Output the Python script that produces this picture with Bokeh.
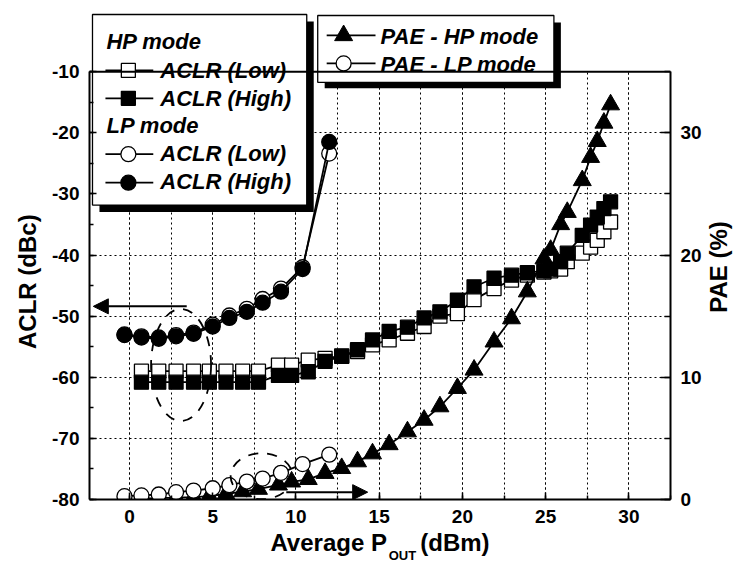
from math import pi
from bokeh.plotting import figure
from bokeh.models import (Range1d, LinearAxis, SingleIntervalTicker, FixedTicker, Span,
                          Arrow, NormalHead, PrintfTickFormatter)
from bokeh.core.properties import value
from bokeh.embed import file_html
from bokeh.resources import INLINE

# ---------------- data ----------------
hp_pout = [0.72, 1.76, 2.8, 3.85, 4.8, 5.8, 6.8, 7.75, 8.95, 9.74, 10.74, 11.75, 12.75,
           13.7, 14.6, 15.6, 16.7, 17.7, 18.65, 19.7, 20.7, 21.9, 22.95, 23.9, 24.9,
           25.3, 25.9, 26.3, 27.2, 27.7, 28.1, 28.5, 28.9]
hp_aclr_low = [-59.0, -59.0, -59.0, -59.0, -59.0, -59.0, -59.0, -59.0, -58.0, -58.0,
               -57.2, -56.9, -56.5, -55.8, -54.7, -53.9, -52.8, -51.7, -50.0, -49.6,
               -47.3, -45.5, -44.1, -43.3, -42.8, -42.6, -42.3, -41.1, -39.7, -38.7,
               -37.6, -36.2, -34.6]
hp_aclr_high = [-60.8, -60.8, -60.8, -60.8, -60.8, -60.8, -60.8, -60.8, -59.7, -59.7,
                -59.1, -57.4, -56.6, -55.5, -53.9, -52.5, -51.8, -50.3, -49.3, -47.4,
                -45.2, -43.8, -43.3, -42.9, -42.6, -42.3, -41.1, -39.7, -36.8, -35.1,
                -33.8, -32.4, -31.3]
hp_pae = [0.1, 0.12, 0.15, 0.2, 0.27, 0.45, 0.65, 0.85, 1.2, 1.45, 1.65, 2.15, 2.55,
          3.1, 3.75, 4.5, 5.55, 6.5, 7.6, 9.1, 10.6, 12.9, 14.8, 17.0, 19.7, 20.4,
          22.5, 23.5, 26.1, 28.0, 29.3, 30.8, 32.3]

lp_pout = [-0.3, 0.72, 1.76, 2.8, 3.85, 5.0, 6.0, 7.05, 8.0, 9.1, 10.4, 12.0]
lp_aclr_low = [-53.0, -53.3, -53.5, -53.1, -52.7, -51.4, -49.9, -48.8, -47.2, -45.5,
               -42.0, -23.4]
lp_aclr_high = [-53.1, -53.5, -53.7, -53.3, -52.9, -51.7, -50.3, -49.3, -47.8, -46.0,
                -42.3, -21.5]
lp_pae = [0.27, 0.33, 0.41, 0.6, 0.73, 0.92, 1.17, 1.47, 1.71, 2.18, 2.9, 3.67]

x_range = (-2.4, 32.5)
aclr_range = (-80, -10)
pae_range = (0, 35)

NB = "\u00a0"
x_title = "Average P" + NB * 5 + "(dBm)"
x_title_sub = "OUT"
x_sub_pos = 16.4
y_title = "ACLR (dBc)" + NB * 8
y2_title = "PAE (%)"
y2_pad = 28

# annotation (ellipses / arrows) in data units
ell_x = [3.1, 7.94]
ell_y = [-58.0, -76.2]
arrow_left = dict(x0=3.44, x1=-2.17, y=-48.4)
arrow_right = dict(x0=9.42, x1=14.31, y=-78.8)

FONT = "Liberation Sans"

# ---------------- figure ----------------
p = figure(width=748, height=565, x_range=Range1d(*x_range), y_range=Range1d(-80, 0),
           output_backend="svg", toolbar_location=None,
           min_border_left=89, min_border_right=76, min_border_top=10, min_border_bottom=65)
p.extra_y_ranges = {"pae": Range1d(0, 40)}
p.outline_line_color = None
p.background_fill_color = "white"
p.border_fill_color = "white"

XS = 583 / (x_range[1] - x_range[0])
YS = 490 / 80.0


def dx(px):
    return x_range[0] + (px - 89) / XS


def dy(py):
    return -80 + (500 - py) / YS


xax = p.xaxis[0]
yax = p.yaxis[0]
right = LinearAxis(y_range_name="pae")
p.add_layout(right, "right")

xax.ticker = SingleIntervalTicker(interval=5, num_minor_ticks=2)
yax.ticker = SingleIntervalTicker(interval=10, num_minor_ticks=2)
right.ticker = SingleIntervalTicker(interval=10, num_minor_ticks=2)
yax.bounds = aclr_range
right.bounds = pae_range

for ax in [xax, yax, right]:
    ax.formatter = PrintfTickFormatter(format="%d")
    ax.axis_line_width = 2
    ax.axis_line_color = "black"
    ax.major_tick_in = 7
    ax.major_tick_out = 0
    ax.minor_tick_in = 4
    ax.minor_tick_out = 0
    ax.major_tick_line_width = 1.5
    ax.minor_tick_line_width = 1.5
    ax.major_tick_line_color = "black"
    ax.minor_tick_line_color = "black"
    ax.major_label_text_font = FONT
    ax.major_label_text_font_style = "bold"
    ax.major_label_text_font_size = "19px"
    ax.major_label_text_color = "black"
    ax.major_label_standoff = 10
    ax.axis_label_text_font = FONT
    ax.axis_label_text_font_style = "bold"
    ax.axis_label_text_font_size = "24px"
    ax.axis_label_text_color = "black"
right.major_tick_in = 10
right.minor_tick_in = 6

xax.axis_label = x_title
xax.axis_label_standoff = 3
yax.axis_label = y_title
yax.axis_label_standoff = 8
right.axis_label = y2_title
right.axis_label_standoff = 14
try:
    right.axis_label_orientation = pi / 2
except Exception:
    pass
try:
    right.axis_label_align = "start"
    right.axis_label = NB * y2_pad + y2_title
except Exception:
    pass

# subscript of the x title, as a label-only axis under the main one
sub = LinearAxis(ticker=FixedTicker(ticks=[x_sub_pos]),
                 major_label_overrides={x_sub_pos: x_title_sub})
sub.axis_line_color = None
sub.major_tick_line_color = None
sub.minor_tick_line_color = None
sub.major_tick_in = 0
sub.major_tick_out = 0
sub.minor_tick_in = 0
sub.minor_tick_out = 0
sub.major_label_standoff = -11
sub.major_label_text_font = FONT
sub.major_label_text_font_style = "bold"
sub.major_label_text_font_size = "13px"
sub.major_label_text_color = "black"
p.add_layout(sub, "below")

p.xgrid.grid_line_color = "black"
p.xgrid.grid_line_dash = "2 3"
p.xgrid.grid_line_width = 1
p.xgrid.minor_grid_line_color = "black"
p.xgrid.minor_grid_line_dash = "2 3"
p.xgrid.minor_grid_line_width = 1
p.ygrid.grid_line_color = "black"
p.ygrid.grid_line_dash = "2 3"
p.ygrid.grid_line_width = 1
p.ygrid.bounds = aclr_range

# white mask above the frame top (-10)
p.quad(left=[x_range[0]], right=[x_range[1]], bottom=[-10], top=[0],
       fill_color="white", line_color=None)
p.add_layout(Span(location=-10, dimension="width", line_color="black", line_width=2))

# ---------------- series ----------------
LW = 1.8
p.line(hp_pout, hp_aclr_low, line_color="black", line_width=LW)
p.scatter(hp_pout, hp_aclr_low, marker="square", size=14, fill_color="white",
          line_color="black", line_width=1.3)
p.line(hp_pout, hp_aclr_high, line_color="black", line_width=LW)
p.scatter(hp_pout, hp_aclr_high, marker="square", size=14, fill_color="black",
          line_color="black", line_width=1.3)
p.line(lp_pout, lp_aclr_low, line_color="black", line_width=LW)
p.scatter(lp_pout, lp_aclr_low, marker="circle", size=15, fill_color="white",
          line_color="black", line_width=1.3)
p.line(lp_pout, lp_aclr_high, line_color="black", line_width=LW)
p.scatter(lp_pout, lp_aclr_high, marker="circle", size=15, fill_color="black",
          line_color="black", line_width=1.3)

p.line(hp_pout, hp_pae, y_range_name="pae", line_color="black", line_width=LW)
p.scatter(hp_pout, hp_pae, y_range_name="pae", marker="triangle", size=18,
          fill_color="black", line_color="black", line_width=1)
p.line(lp_pout, lp_pae, y_range_name="pae", line_color="black", line_width=LW)
p.scatter(lp_pout, lp_pae, y_range_name="pae", marker="circle", size=15,
          fill_color="white", line_color="black", line_width=1.3)

# dashed ellipses
p.ellipse(x=ell_x, y=ell_y, width=[60, 62], height=[112, 46],
          width_units="screen", height_units="screen",
          fill_color=None, line_color="black", line_width=1.8, line_dash="10 9")

# arrows
head = dict(size=15, fill_color="black", line_color="black")
p.add_layout(Arrow(end=NormalHead(**head), x_start=arrow_left["x0"], x_end=arrow_left["x1"],
                   y_start=arrow_left["y"], y_end=arrow_left["y"], line_width=2))
p.add_layout(Arrow(end=NormalHead(**head), x_start=arrow_right["x0"], x_end=arrow_right["x1"],
                   y_start=arrow_right["y"], y_end=arrow_right["y"], line_width=2))

# ---------------- legend boxes ----------------
p.quad(left=[dx(99)], right=[dx(314)], top=[dy(21)], bottom=[dy(212)],
       fill_color="black", line_color=None)
p.quad(left=[dx(92)], right=[dx(307)], top=[dy(14)], bottom=[dy(205)],
       fill_color="white", line_color="black", line_width=1.3)
p.quad(left=[dx(325)], right=[dx(562)], top=[dy(22)], bottom=[dy(88)],
       fill_color="black", line_color=None)
p.quad(left=[dx(318)], right=[dx(555)], top=[dy(15)], bottom=[dy(82)],
       fill_color="white", line_color="black", line_width=1.3)

leg_txt = dict(text_font=value(FONT), text_font_style="bold italic",
               text_font_size="22px", text_color="black", text_baseline="middle",
               text_align="left")
p.text(x=[dx(106), dx(106)], y=[dy(41), dy(125)], text=["HP mode", "LP mode"], **leg_txt)
p.text(x=[dx(160)] * 4, y=[dy(70), dy(98), dy(153), dy(181)],
       text=["ACLR (Low)", "ACLR (High)", "ACLR (Low)", "ACLR (High)"], **leg_txt)
p.text(x=[dx(381)] * 2, y=[dy(36), dy(64)], text=["PAE - HP mode", "PAE - LP mode"],
       **leg_txt)

for yy in [70, 98, 154, 182.5]:
    p.line([dx(105), dx(153)], [dy(yy), dy(yy)], line_color="black", line_width=LW)
p.scatter([dx(128)], [dy(70)], marker="square", size=14, fill_color="white",
          line_color="black", line_width=1.3)
p.scatter([dx(128)], [dy(98)], marker="square", size=14, fill_color="black",
          line_color="black", line_width=1.3)
p.scatter([dx(128)], [dy(154)], marker="circle", size=15, fill_color="white",
          line_color="black", line_width=1.3)
p.scatter([dx(128)], [dy(182.5)], marker="circle", size=15, fill_color="black",
          line_color="black", line_width=1.3)
for yy in [35, 63]:
    p.line([dx(327), dx(376)], [dy(yy), dy(yy)], line_color="black", line_width=LW)
p.scatter([dx(344)], [dy(35)], marker="triangle", size=18, fill_color="black",
          line_color="black", line_width=1)
p.scatter([dx(344)], [dy(63)], marker="circle", size=15, fill_color="white",
          line_color="black", line_width=1.3)

open("out.html", "w").write(file_html(p, INLINE))
